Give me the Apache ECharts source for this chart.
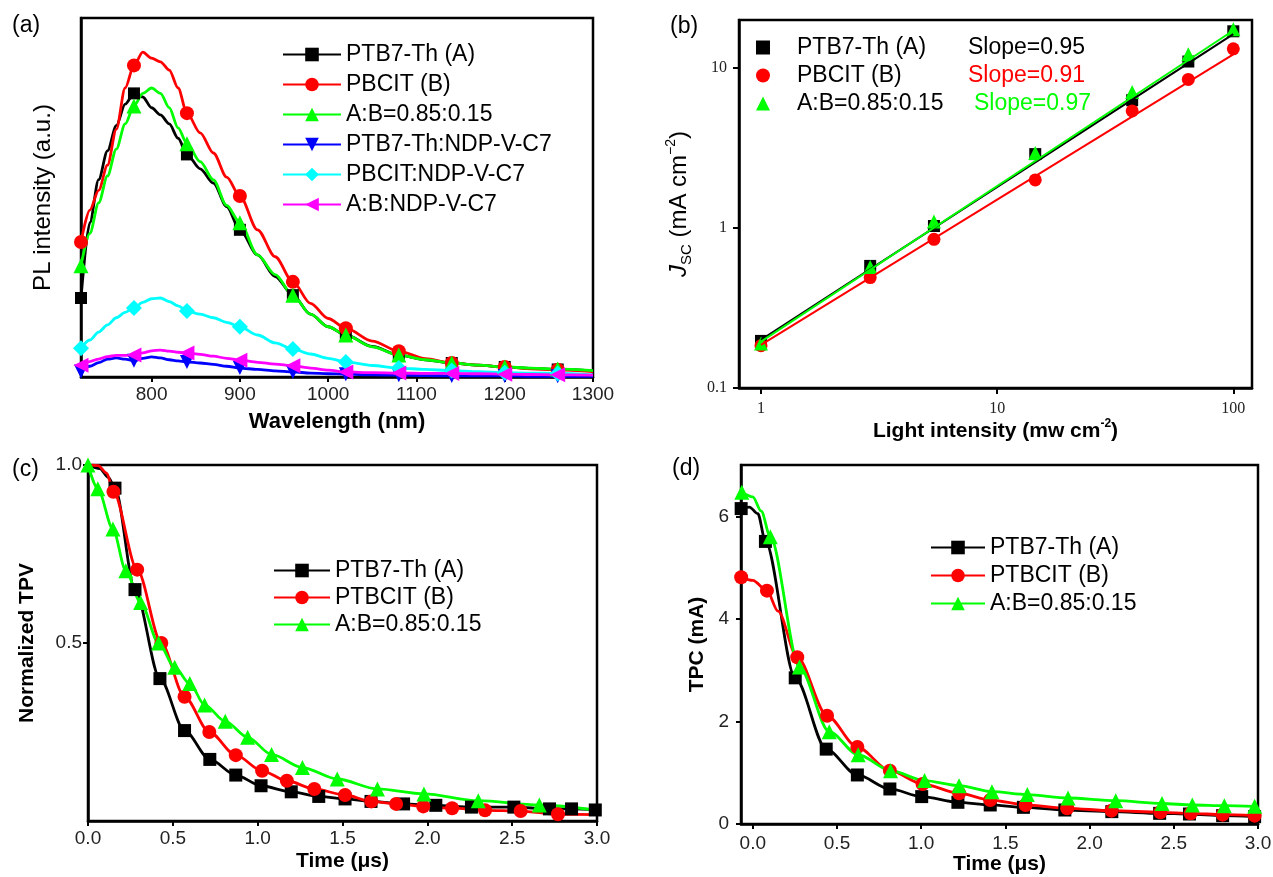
<!DOCTYPE html>
<html>
<head>
<meta charset="utf-8">
<title>PL / Jsc / TPV / TPC</title>
<script src="https://cdn.jsdelivr.net/npm/echarts@6.0.0/dist/echarts.min.js"></script>
<style>
  html, body { margin: 0; padding: 0; background: #fff; }
  #chart { width: 1273px; height: 877px; }
</style>
</head>
<body>
<div id="chart"></div>
<script>
// (a) PL spectra, arbitrary units
const wavelength = [720, 730, 740, 750, 760, 770, 780, 790, 800, 810, 820, 830, 840, 855, 870, 885, 900, 920, 940, 960, 980, 1000, 1020, 1050, 1080, 1110, 1140, 1170, 1200, 1230, 1260, 1300];
const plA     = [22, 43, 55, 63, 70, 76, 79, 78, 75, 73, 70.5, 66.5, 62, 58, 54, 47.5, 41, 34, 28, 22.8, 17.5, 14, 11.7, 8.5, 6.1, 4.8, 3.9, 3.3, 2.8, 2.4, 2.1, 1.7];
const plB     = [37.6, 46.5, 52, 59, 69, 80.5, 86.8, 90.5, 88.8, 87.8, 85.5, 80.5, 73.5, 68, 62.4, 55.7, 50.4, 41, 33.5, 26.5, 20.5, 16.3, 13.6, 10, 7.2, 5.1, 3.9, 3.3, 2.8, 2.3, 2.0, 1.5];
const plAB    = [31, 40, 48.5, 56, 63.5, 70.5, 75.5, 79, 80.5, 79, 75, 69.4, 65, 60, 54.9, 47.8, 43, 34, 28.5, 22.8, 17.5, 14, 11.7, 8.4, 6.1, 4.8, 3.9, 3.3, 2.8, 2.5, 2.2, 1.8];
const plANdp  = [1.5, 3, 4, 5, 5.3, 5, 4.5, 5.2, 5.6, 5.3, 4.8, 4.5, 4.2, 3.9, 3.5, 3, 2.5, 2.1, 1.7, 1.4, 1.1, 0.9, 0.8, 0.6, 0.5, 0.4, 0.3, 0.3, 0.3, 0.2, 0.2, 0.2];
const plBNdp  = [8, 10.3, 12.5, 14.5, 16.5, 18, 19.2, 20.8, 21.8, 22, 21, 19.8, 18.4, 17.5, 16.5, 15.2, 14, 11.7, 9.5, 7.8, 6.4, 5.2, 4.2, 3.2, 2.5, 2.1, 1.8, 1.5, 1.2, 1.1, 1.0, 0.6];
const plABNdp = [3.3, 4.3, 5, 5.7, 6, 6, 6.1, 6.7, 7.3, 7.5, 7.2, 6.9, 6.7, 6.3, 5.8, 5.2, 4.7, 4.1, 3.6, 3.1, 2.5, 1.9, 1.4, 1.2, 1.1, 1.0, 1.0, 0.9, 0.8, 0.7, 0.6, 0.5];
const wlTicks = [800, 900, 1000, 1100, 1200, 1300];

// (b) Jsc vs light intensity
const lightIntensity = [1, 2.9, 5.4, 14.5, 37.3, 64.5, 100];
const jscA  = [0.197, 0.58, 1.03, 2.9, 6.3, 11, 17];
const jscB  = [0.184, 0.49, 0.85, 2.0, 5.4, 8.5, 13.2];
const jscAB = [0.19, 0.57, 1.1, 2.95, 7.1, 12.2, 17.5];
const fitX  = [1, 100];
const fitA  = [0.2, 16.3];
const fitB  = [0.186, 12.2];
const fitAB = [0.195, 17.2];
const slopes = ['0.95', '0.91', '0.97'];
const lightTicks = [1, 10, 100];
const jscTicks = [0.1, 1, 10];

// (c) normalized TPV
const tpvTimeA = [0.159, 0.277, 0.424, 0.569, 0.718, 0.871, 1.02, 1.198, 1.36, 1.515, 1.668, 1.86, 2.05, 2.26, 2.51, 2.72, 2.85, 2.99];
const tpvA     = [0.935, 0.65, 0.40, 0.254, 0.173, 0.129, 0.099, 0.082, 0.069, 0.062, 0.055, 0.048, 0.044, 0.039, 0.039, 0.034, 0.034, 0.031];
const tpvTimeB = [0.15, 0.29, 0.432, 0.569, 0.715, 0.871, 1.026, 1.172, 1.334, 1.515, 1.67, 1.816, 1.976, 2.146, 2.34, 2.55, 2.77];
const tpvB     = [0.925, 0.706, 0.50, 0.349, 0.25, 0.185, 0.141, 0.113, 0.09, 0.073, 0.055, 0.048, 0.041, 0.036, 0.03, 0.028, 0.019];
const tpvTimeAB = [0, 0.058, 0.147, 0.223, 0.31, 0.416, 0.511, 0.6, 0.687, 0.809, 0.941, 1.082, 1.264, 1.469, 1.706, 1.98, 2.30, 2.66];
const tpvAB     = [1.0, 0.933, 0.82, 0.703, 0.614, 0.50, 0.432, 0.386, 0.326, 0.28, 0.235, 0.187, 0.15, 0.118, 0.09, 0.076, 0.057, 0.045];
// curve points between markers (no symbol)
const tpvExtraTimeA = [0, 0.07, 0.12];
const tpvExtraA     = [1.0, 0.99, 0.965];
const tpvExtraTimeB = [0.02, 0.06, 0.11, 3.0];
const tpvExtraB     = [1.0, 0.998, 0.977, 0.018];
const tpvExtraTimeAB = [3.0];
const tpvExtraAB     = [0.03];

// (d) TPC
const tpcTimeA = [-0.069, 0.075, 0.252, 0.436, 0.621, 0.814, 1.003, 1.218, 1.41, 1.607, 1.853, 2.132, 2.416, 2.593, 2.79, 2.98];
const tpcA     = [6.15, 5.51, 2.85, 1.46, 0.956, 0.683, 0.534, 0.423, 0.371, 0.325, 0.273, 0.241, 0.208, 0.195, 0.163, 0.143];
const tpcTimeB = [-0.069, 0.084, 0.264, 0.441, 0.621, 0.814, 1.008, 1.225, 1.41, 1.62, 1.867, 2.13, 2.42, 2.6, 2.79, 2.98];
const tpcB     = [4.81, 4.55, 3.25, 2.11, 1.5, 1.04, 0.78, 0.6, 0.468, 0.371, 0.306, 0.26, 0.228, 0.208, 0.182, 0.163];
const tpcTimeAB = [-0.065, 0.104, 0.277, 0.454, 0.626, 0.818, 1.02, 1.225, 1.42, 1.63, 1.872, 2.155, 2.43, 2.61, 2.80, 2.98];
const tpcAB     = [6.47, 5.6, 3.06, 1.8, 1.35, 1.04, 0.846, 0.748, 0.63, 0.573, 0.507, 0.455, 0.40, 0.37, 0.358, 0.345];
const tpcExtraTimeA = [-0.02, 0.03];
const tpcExtraA     = [6.18, 6.05];
const tpcExtraTimeB = [0.0, 0.15];
const tpcExtraB     = [4.75, 4.15];
const tpcExtraTimeAB = [0.0, 0.05];
const tpcExtraAB     = [6.38, 6.1];
const timeTicks = [0, 0.5, 1.0, 1.5, 2.0, 2.5, 3.0];

const namesA = ['PTB7-Th (A)', 'PBCIT (B)', 'A:B=0.85:0.15', 'PTB7-Th:NDP-V-C7', 'PBCIT:NDP-V-C7', 'A:B:NDP-V-C7'];
const namesB = ['PTB7-Th (A)', 'PBCIT (B)', 'A:B=0.85:0.15'];
const namesC = ['PTB7-Th (A)', 'PTBCIT (B)', 'A:B=0.85:0.15'];

const SANS = '"Liberation Sans", Arial, sans-serif';
const SERIF = '"Liberation Serif", "Times New Roman", serif';
const BLACK = '#000000', RED = '#ff0000', GREEN = '#00ff00', BLUE = '#0000ff', CYAN = '#00ffff', MAGENTA = '#ff00ff';

function curve(xs, ys, exXs, exYs) {
  const pts = xs.map((x, i) => ({ value: [x, ys[i]] }));
  (exXs || []).forEach((x, i) => pts.push({ value: [x, exYs[i]], symbol: 'none' }));
  return pts.sort((p, q) => p.value[0] - q.value[0]);
}

function plCurve(ys) {
  return wavelength.map((w, i) => ((w - 720) % 60 === 0
    ? { value: [w, ys[i]] }
    : { value: [w, ys[i]], symbol: 'none' }));
}

function lineSeries(name, idx, data, color, symbol, size, rotate) {
  return {
    name, type: 'line', xAxisIndex: idx, yAxisIndex: idx, data,
    smooth: 0.3, smoothMonotone: 'x',
    symbol, symbolSize: size, symbolRotate: rotate || 0, showAllSymbol: true,
    lineStyle: { color, width: 2.8 }, itemStyle: { color, opacity: 1 },
    emphasis: { disabled: true }
  };
}

function frameAxis(extra) {
  return Object.assign({
    type: 'value',
    splitLine: { show: false },
    axisLine: { show: true, onZero: false, lineStyle: { color: BLACK, width: 2.5 } },
    axisTick: { length: 5, lineStyle: { color: BLACK, width: 2 } },
    axisLabel: { color: '#222', fontSize: 19, fontFamily: SANS },
    nameLocation: 'middle',
    nameTextStyle: { color: BLACK, fontFamily: SANS, fontSize: 21, fontWeight: 'bold' }
  }, extra);
}

function legendBox(names, prefix, left, top, extra) {
  return Object.assign({
    data: names.map(n => prefix + n), orient: 'vertical', left, top,
    itemWidth: 58, itemHeight: 17, itemGap: 7, selectedMode: false,
    formatter: n => n.slice(prefix.length),
    textStyle: { color: BLACK, fontFamily: SANS, fontSize: 23, lineHeight: 23 }
  }, extra);
}

const gridBox = { show: true, borderColor: BLACK, borderWidth: 2.5, containLabel: false, outerBoundsMode: 'none' };

const option = {
  backgroundColor: '#fff',
  animation: false,
  grid: [
    Object.assign({ left: 81, top: 18, width: 512, height: 359 }, gridBox),
    Object.assign({ left: 739, top: 20, width: 513, height: 368 }, gridBox),
    Object.assign({ left: 88, top: 465, width: 509, height: 356 }, gridBox),
    Object.assign({ left: 741, top: 465, width: 517, height: 359 }, gridBox)
  ],
  xAxis: [
    frameAxis({
      gridIndex: 0, min: 720, max: 1300,
      axisTick: { customValues: wlTicks, length: 5, lineStyle: { color: BLACK, width: 2 } },
      axisLabel: { customValues: wlTicks, color: '#222', fontSize: 19, fontFamily: SANS, margin: 8, formatter: v => String(v) },
      name: 'Wavelength (nm)', nameGap: 34,
      nameTextStyle: { color: BLACK, fontFamily: SANS, fontSize: 22, fontWeight: 'bold' }
    }),
    frameAxis({
      gridIndex: 1, type: 'log', logBase: 10, min: 0.807, max: 120,
      axisTick: { customValues: lightTicks, length: 6, lineStyle: { color: BLACK, width: 2 } },
      axisLabel: { customValues: lightTicks, color: '#222', fontSize: 16, fontFamily: SERIF, margin: 13, formatter: v => String(v) },
      name: '{t|Light intensity (mw cm}{p|-2}{t|)}', nameGap: 27,
      nameTextStyle: {
        rich: {
          t: { fontFamily: SANS, fontSize: 21, fontWeight: 'bold', color: BLACK, lineHeight: 26 },
          p: { fontFamily: SANS, fontSize: 12, fontWeight: 'bold', color: BLACK, verticalAlign: 'top', lineHeight: 26 }
        }
      }
    }),
    frameAxis({
      gridIndex: 2, min: 0, max: 3, interval: 0.5,
      axisLabel: { color: '#222', fontSize: 19, fontFamily: SANS, margin: 8, formatter: v => v.toFixed(1) },
      name: 'Time (\u03bcs)', nameGap: 30
    }),
    frameAxis({
      gridIndex: 3, min: -0.07, max: 3,
      axisTick: { customValues: timeTicks, length: 5, lineStyle: { color: BLACK, width: 2 } },
      axisLabel: { customValues: timeTicks, color: '#222', fontSize: 19, fontFamily: SANS, margin: 10, formatter: v => v.toFixed(1) },
      name: 'Time (\u03bcs)', nameGap: 30
    })
  ],
  yAxis: [
    frameAxis({
      gridIndex: 0, min: 0, max: 100,
      axisTick: { show: false }, axisLabel: { show: false },
      name: 'PL intensity (a.u.)', nameRotate: 90, nameGap: 26,
      nameTextStyle: { color: BLACK, fontFamily: SANS, fontSize: 24 }
    }),
    frameAxis({
      gridIndex: 1, type: 'log', logBase: 10, min: 0.1, max: 20,
      axisTick: { customValues: jscTicks, length: 6, lineStyle: { color: BLACK, width: 2 } },
      axisLabel: { customValues: jscTicks, color: '#222', fontSize: 16, fontFamily: SERIF, margin: 12, formatter: v => String(v) },
      name: '{i|J}{s|SC}{t| (mA cm}{p|\u22122}{t|)}', nameRotate: 90, nameGap: 45,
      nameTextStyle: {
        rich: {
          i: { fontFamily: SANS, fontSize: 24, fontStyle: 'italic', color: BLACK, lineHeight: 30 },
          s: { fontFamily: SANS, fontSize: 15, color: BLACK, verticalAlign: 'bottom', lineHeight: 30 },
          t: { fontFamily: SANS, fontSize: 24, color: BLACK, lineHeight: 30 },
          p: { fontFamily: SANS, fontSize: 14, color: BLACK, verticalAlign: 'top', lineHeight: 30 }
        }
      }
    }),
    frameAxis({
      gridIndex: 2, min: 0, max: 1,
      axisTick: { customValues: [0.5, 1], length: 5, lineStyle: { color: BLACK, width: 2 } },
      axisLabel: { customValues: [0.5, 1], color: '#222', fontSize: 19, fontFamily: SANS, margin: 6, formatter: v => v.toFixed(1) },
      name: 'Normalized TPV', nameRotate: 90, nameGap: 50
    }),
    frameAxis({
      gridIndex: 3, min: 0, max: 7,
      axisTick: { customValues: [0, 2, 4, 6], length: 5, lineStyle: { color: BLACK, width: 2 } },
      axisLabel: { customValues: [0, 2, 4, 6], color: '#222', fontSize: 19, fontFamily: SANS, margin: 12 },
      name: 'TPC (mA)', nameRotate: 90, nameGap: 33
    })
  ],
  legend: [
    legendBox(namesA, 'a:', 277, 38),
    legendBox(namesB, 'b:', 751, 31, {
      itemWidth: 14, itemHeight: 14, itemGap: 5,
      formatter: n => {
        const i = namesB.indexOf(n.slice(2));
        return '{n|' + n.slice(2) + '}{k' + i + '|Slope=' + slopes[i] + '}';
      },
      textStyle: {
        color: BLACK, fontFamily: SANS, fontSize: 23, lineHeight: 23,
        rich: {
          n: { fontFamily: SANS, fontSize: 23, color: BLACK, width: 171, padding: [0, 0, 0, 22], lineHeight: 23 },
          k0: { fontFamily: SANS, fontSize: 23, color: BLACK, lineHeight: 23 },
          k1: { fontFamily: SANS, fontSize: 23, color: RED, lineHeight: 23 },
          k2: { fontFamily: SANS, fontSize: 23, color: GREEN, padding: [0, 0, 0, 6], lineHeight: 23 }
        }
      }
    }),
    legendBox(namesC, 'c:', 268, 554, { itemWidth: 56, itemGap: 4 }),
    legendBox(namesC, 'd:', 925, 531, { itemWidth: 54, itemGap: 5 })
  ],
  graphic: [
    { type: 'text', left: 12, top: 14, style: { text: '(a)', font: '23px ' + SANS, fill: BLACK } },
    { type: 'text', left: 670, top: 15, style: { text: '(b)', font: '23px ' + SANS, fill: BLACK } },
    { type: 'text', left: 12, top: 458, style: { text: '(c)', font: '23px ' + SANS, fill: BLACK } },
    { type: 'text', left: 672, top: 457, style: { text: '(d)', font: '23px ' + SANS, fill: BLACK } }
  ],
  series: [
    // (a)
    lineSeries('a:' + namesA[0], 0, plCurve(plA), BLACK, 'rect', 12),
    lineSeries('a:' + namesA[1], 0, plCurve(plB), RED, 'circle', 14),
    lineSeries('a:' + namesA[2], 0, plCurve(plAB), GREEN, 'triangle', 15),
    lineSeries('a:' + namesA[3], 0, plCurve(plANdp), BLUE, 'triangle', 14, 180),
    lineSeries('a:' + namesA[4], 0, plCurve(plBNdp), CYAN, 'diamond', 16),
    lineSeries('a:' + namesA[5], 0, plCurve(plABNdp), MAGENTA, 'triangle', 15, 90),
    // (b) fit lines then points
    { name: 'fitA', type: 'line', xAxisIndex: 1, yAxisIndex: 1, data: fitX.map((x, i) => [x, fitA[i]]), showSymbol: false, lineStyle: { color: BLACK, width: 2 }, emphasis: { disabled: true } },
    { name: 'fitB', type: 'line', xAxisIndex: 1, yAxisIndex: 1, data: fitX.map((x, i) => [x, fitB[i]]), showSymbol: false, lineStyle: { color: RED, width: 2 }, emphasis: { disabled: true } },
    { name: 'fitAB', type: 'line', xAxisIndex: 1, yAxisIndex: 1, data: fitX.map((x, i) => [x, fitAB[i]]), showSymbol: false, lineStyle: { color: GREEN, width: 2 }, emphasis: { disabled: true } },
    { name: 'b:' + namesB[0], type: 'scatter', xAxisIndex: 1, yAxisIndex: 1, data: lightIntensity.map((x, i) => [x, jscA[i]]), symbol: 'rect', symbolSize: 12, itemStyle: { color: BLACK, opacity: 1 }, emphasis: { disabled: true } },
    { name: 'b:' + namesB[1], type: 'scatter', xAxisIndex: 1, yAxisIndex: 1, data: lightIntensity.map((x, i) => [x, jscB[i]]), symbol: 'circle', symbolSize: 13, itemStyle: { color: RED, opacity: 1 }, emphasis: { disabled: true } },
    { name: 'b:' + namesB[2], type: 'scatter', xAxisIndex: 1, yAxisIndex: 1, data: lightIntensity.map((x, i) => [x, jscAB[i]]), symbol: 'triangle', symbolSize: 14, itemStyle: { color: GREEN, opacity: 1 }, emphasis: { disabled: true } },
    // (c)
    lineSeries('c:' + namesC[0], 2, curve(tpvTimeA, tpvA, tpvExtraTimeA, tpvExtraA), BLACK, 'rect', 13),
    lineSeries('c:' + namesC[1], 2, curve(tpvTimeB, tpvB, tpvExtraTimeB, tpvExtraB), RED, 'circle', 14),
    lineSeries('c:' + namesC[2], 2, curve(tpvTimeAB, tpvAB, tpvExtraTimeAB, tpvExtraAB), GREEN, 'triangle', 15),
    // (d)
    lineSeries('d:' + namesC[0], 3, curve(tpcTimeA, tpcA, tpcExtraTimeA, tpcExtraA), BLACK, 'rect', 13),
    lineSeries('d:' + namesC[1], 3, curve(tpcTimeB, tpcB, tpcExtraTimeB, tpcExtraB), RED, 'circle', 14),
    lineSeries('d:' + namesC[2], 3, curve(tpcTimeAB, tpcAB, tpcExtraTimeAB, tpcExtraAB), GREEN, 'triangle', 15)
  ]
};

const chart = echarts.init(document.getElementById('chart'));
chart.setOption(option);
</script>
</body>
</html>
